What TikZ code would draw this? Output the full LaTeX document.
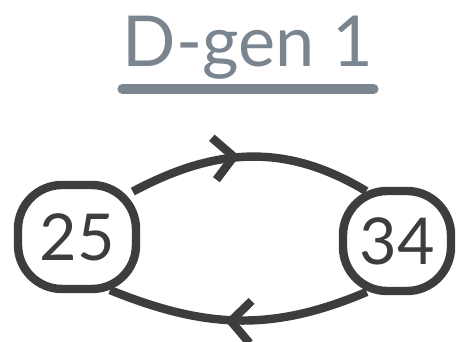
\documentclass[tikz,border=0pt]{standalone}
\usepackage{fontspec}
\setmainfont{Lato}
\usetikzlibrary{decorations.markings, backgrounds}
\definecolor{ink}{HTML}{3D3D3F}
\definecolor{slate}{HTML}{7B858F}

\begin{document}
\begin{tikzpicture}[
    line cap=round,
    line join=round,
    state/.style={
        draw=ink,
        fill=white,
        line width=6pt,
        rounded corners=1.1cm,
        text=ink,
        font=\fontsize{46}{46}\selectfont,
        inner sep=0pt
    },
    flow/.style={
        draw=ink,
        line width=6pt,
        shorten <=-6pt,
        shorten >=-6pt,
        decoration={markings, mark=at position #1 with {
            \draw[ink, line width=6pt, shorten <=0pt, shorten >=0pt]
                (-14pt,15pt) -- (0pt,0pt) -- (-14pt,-15pt);}},
        postaction={decorate}
    },
    heading/.style={text=slate, font=\fontsize{50}{50}\selectfont, inner sep=0pt},
    rule/.style={draw=slate, line width=7pt}
]

\useasboundingbox (0,0) rectangle (11.575,8.55);

\node[heading, anchor=base] (title) at (6.2,6.875) {D-gen 1};
\draw[rule] ([yshift=-0.55cm]title.base west) -- ([yshift=-0.55cm]title.base east);

\node[state, minimum width=2.95cm, minimum height=2.6cm] (n25) at (1.925,2.625) {25};
\node[state, minimum width=2.7cm, minimum height=2.5cm] (n34) at (9.925,2.525) {34};

\begin{scope}[on background layer]
  \draw[flow=0.43] (n25.38) to[out=28, in=149] (n34.125);
  \draw[flow=0.53] (n34.235) to[out=203, in=-22] (n25.-54);
\end{scope}

\end{tikzpicture}
\end{document}
